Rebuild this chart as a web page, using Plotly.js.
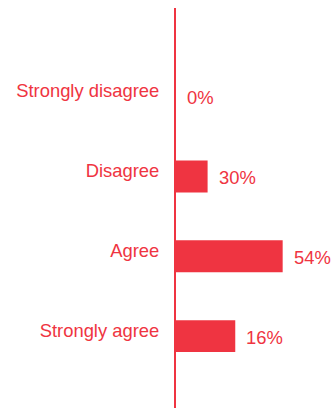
<!DOCTYPE html>
<html><head><meta charset="utf-8">
<script src="https://cdn.plot.ly/plotly-3.0.1.min.js"></script>
<style>html,body{margin:0;padding:0;background:#fff}#chart{width:336px;height:408px}</style>
</head><body><div id="chart"></div>
<script>
const categories = ["Strongly disagree", "Disagree", "Agree", "Strongly agree"];
const barValues = [0, 16, 54, 30];
const valueLabels = ["0%", "30%", "54%", "16%"];

const red = "#EF3441";
const font = {family: "Liberation Sans, Arial, sans-serif", size: 18.4, color: red};

const trace = {
  type: "bar", orientation: "h",
  y: categories, x: barValues,
  width: 0.4,
  marker: {color: red},
  hoverinfo: "none"
};

const annotations = categories.map((c, i) => ({
  x: barValues[i], y: c, xref: "x", yref: "y",
  text: valueLabels[i], showarrow: false,
  xanchor: "left", yanchor: "middle", xshift: 9, yshift: -1,
  font: font
}));

Plotly.newPlot("chart", [trace], {
  width: 336, height: 408,
  margin: {l: 176, r: 0, t: 8, b: 0},
  paper_bgcolor: "#fff", plot_bgcolor: "#fff",
  showlegend: false,
  font: font,
  xaxis: {range: [0, 81], showgrid: false, zeroline: false, showticklabels: false, showline: false, fixedrange: true},
  yaxis: {type: "category", range: [3.9, -1.11], showgrid: false, zeroline: false,
          showline: true, linecolor: red, linewidth: 2, ticks: "",
          ticklabelstandoff: 11, ticklabelshift: 6, tickfont: font, fixedrange: true},
  annotations: annotations
}, {staticPlot: true, displayModeBar: false});
</script></body></html>
